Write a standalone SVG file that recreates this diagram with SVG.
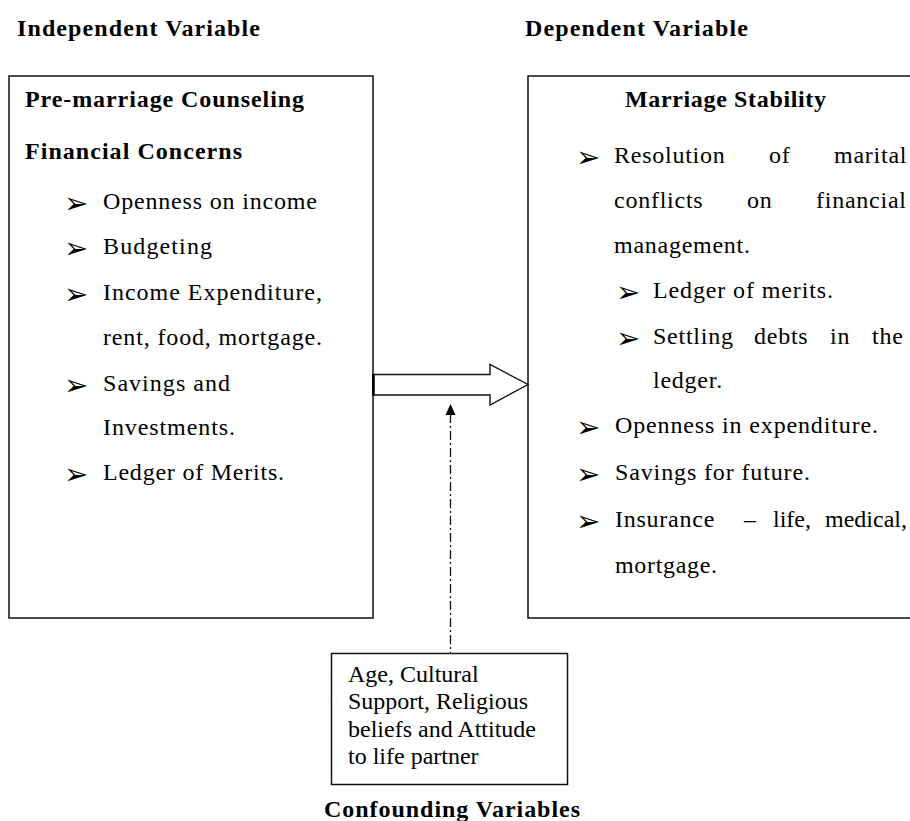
<svg xmlns="http://www.w3.org/2000/svg" width="910" height="821" viewBox="0 0 910 821">
<style>
.t{font-family:"Liberation Serif","Times New Roman",serif;font-size:24px;fill:#000}
.b{font-weight:bold}
.j{letter-spacing:0.75px}
.bul{font-family:"DejaVu Sans",sans-serif;font-size:29px;fill:#000}
.box{fill:#fff;stroke:#111;stroke-width:1.5}
</style>
<rect width="910" height="821" fill="#fff"/>
<g id="title-independent"><text class="t b" x="17" y="36" textLength="243" lengthAdjust="spacing">Independent Variable</text></g>
<g id="title-dependent"><text class="t b" x="525" y="36" textLength="223" lengthAdjust="spacing">Dependent Variable</text></g>

<g id="independent-box">
<rect class="box" x="9" y="76" width="364" height="542"/>
<text class="t b" x="25" y="107" textLength="279" lengthAdjust="spacing">Pre-marriage Counseling</text>
<text class="t b" x="25" y="159" textLength="217" lengthAdjust="spacing">Financial Concerns</text>
<text class="bul" x="64" y="213">➢</text>
<text class="t" x="103" y="209" textLength="214" lengthAdjust="spacing">Openness on income</text>
<text class="bul" x="64" y="258">➢</text>
<text class="t" x="103" y="254" textLength="109" lengthAdjust="spacing">Budgeting</text>
<text class="bul" x="64" y="304">➢</text>
<text class="t" x="103" y="300" textLength="219" lengthAdjust="spacing">Income Expenditure,</text>
<text class="t" x="103" y="345" textLength="219" lengthAdjust="spacing">rent, food, mortgage.</text>
<text class="bul" x="64" y="395">➢</text>
<text class="t" x="103" y="391" textLength="127" lengthAdjust="spacing">Savings and</text>
<text class="t" x="103" y="435" textLength="132" lengthAdjust="spacing">Investments.</text>
<text class="bul" x="64" y="484">➢</text>
<text class="t" x="103" y="480" textLength="181" lengthAdjust="spacing">Ledger of Merits.</text>
</g>

<g id="dependent-box">
<rect class="box" x="528" y="76" width="400" height="542"/>
<text class="t b" x="625" y="107" textLength="201" lengthAdjust="spacing">Marriage Stability</text>
<text class="bul" x="576" y="167">➢</text>
<text class="t j" y="163"><tspan x="614">Resolution</tspan><tspan x="769">of</tspan><tspan x="834">marital</tspan></text>
<text class="t j" y="208"><tspan x="614">conflicts</tspan><tspan x="747">on</tspan><tspan x="816">financial</tspan></text>
<text class="t" x="614" y="253" textLength="136" lengthAdjust="spacing">management.</text>
<text class="bul" x="616" y="302">➢</text>
<text class="t" x="653" y="298" textLength="180" lengthAdjust="spacing">Ledger of merits.</text>
<text class="bul" x="616" y="348">➢</text>
<text class="t j" y="344"><tspan x="653">Settling</tspan><tspan x="754">debts</tspan><tspan x="830">in</tspan><tspan x="872">the</tspan></text>
<text class="t j" x="653" y="388">ledger.</text>
<text class="bul" x="576" y="437">➢</text>
<text class="t" x="615" y="433" textLength="263" lengthAdjust="spacing">Openness in expenditure.</text>
<text class="bul" x="576" y="484">➢</text>
<text class="t" x="615" y="480" textLength="195" lengthAdjust="spacing">Savings for future.</text>
<text class="bul" x="576" y="531">➢</text>
<text class="t" y="527"><tspan x="615" letter-spacing="0.75">Insurance</tspan><tspan x="744">–</tspan><tspan x="773">life,</tspan><tspan x="825">medical,</tspan></text>
<text class="t" x="615" y="573" textLength="102" lengthAdjust="spacing">mortgage.</text>
</g>

<g id="confounding-box">
<rect class="box" x="331.5" y="653.5" width="236" height="131"/>
<text class="t" x="348" y="682">Age, Cultural</text>
<text class="t" x="348" y="709">Support, Religious</text>
<text class="t" x="348" y="737">beliefs and Attitude</text>
<text class="t" x="348" y="764">to life partner</text>
</g>
<g id="title-confounding"><text class="t b" x="324" y="817" textLength="256" lengthAdjust="spacing">Confounding Variables</text></g>

<g id="connectors">
<polygon points="373,374.5 490,374.5 490,364.5 528,384.5 490,405 490,395 373,395" fill="#fff" stroke="#111" stroke-width="1.4"/>
<line x1="373.5" y1="374" x2="373.5" y2="395.5" stroke="#000" stroke-width="2.5"/>
<line x1="450.5" y1="414" x2="450.5" y2="653" stroke="#111" stroke-width="1.3" stroke-dasharray="9,3,2,3"/>
<polygon points="450.5,404 445.5,415 455.5,415" fill="#000"/>
</g>
</svg>
